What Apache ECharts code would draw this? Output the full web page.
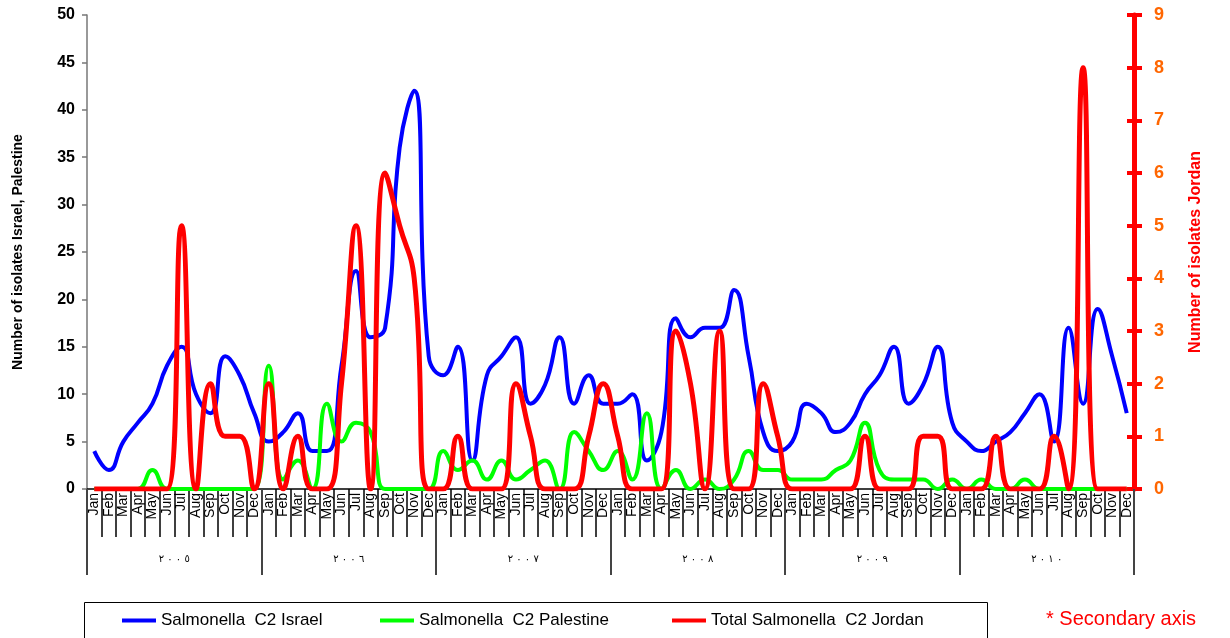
<!DOCTYPE html>
<html>
<head>
<meta charset="utf-8">
<title>Salmonella C2</title>
<script src="https://cdn.jsdelivr.net/npm/echarts@6/dist/echarts.min.js"></script>
<style>
  html, body { margin: 0; padding: 0; background: #fff; }
  #chart { width: 1230px; height: 638px; }
</style>
</head>
<body>
<div id="chart"></div>
<script>
// month labels, repeated for each year
const months = ['Jan', 'Feb', 'Mar', 'Apr', 'May', 'Jun', 'Jul', 'Aug', 'Sep', 'Oct', 'Nov', 'Dec']
const years = ['٢٠٠٥', '٢٠٠٦', '٢٠٠٧', '٢٠٠٨', '٢٠٠٩', '٢٠١٠']

const seriesNames = ['Salmonella  C2 Israel', 'Salmonella  C2 Palestine', 'Total Salmonella  C2 Jordan']

// Israel (left axis)
const israel = [
  4, 2, 5, 7, 9, 13, 15, 10, 8, 14, 12, 8,
  5, 6, 8, 4, 4, 13, 23, 16, 17, 36, 42, 14,
  12, 15, 3, 12, 14, 16, 9, 11, 16, 9, 12, 9,
  9, 10, 3, 6, 18, 16, 17, 17, 21, 14, 6, 4,
  5, 9, 8, 6, 7, 10, 12, 15, 9, 11, 15, 7,
  5, 4, 5, 6, 8, 10, 5, 17, 9, 19, 14, 8
]

// Palestine (left axis)
const palestine = [
  0, 0, 0, 0, 2, 0, 0, 0, 0, 0, 0, 0,
  13, 1, 3, 0, 9, 5, 7, 6, 0, 0, 0, 0,
  4, 2, 3, 1, 3, 1, 2, 3, 0, 6, 4, 2,
  4, 1, 8, 0, 2, 0, 1, 0, 1, 4, 2, 2,
  1, 1, 1, 2, 3, 7, 2, 1, 1, 1, 0, 1,
  0, 1, 0, 0, 1, 0, 0, 0, 0, 0, 0, 0
]

// Jordan (secondary axis)
const jordan = [
  0, 0, 0, 0, 0, 0, 5, 0, 2, 1, 1, 0,
  2, 0, 1, 0, 0, 2, 5, 0, 6, 5, 4, 0,
  0, 1, 0, 0, 0, 2, 1, 0, 0, 0, 1, 2,
  1, 0, 0, 0, 3, 2, 0, 3, 0, 0, 2, 1,
  0, 0, 0, 0, 0, 1, 0, 0, 0, 1, 1, 0,
  0, 0, 1, 0, 0, 0, 1, 0, 8, 0, 0, 0
]

const monthLabels = years.flatMap(() => months)

const chart = echarts.init(document.getElementById('chart'))

const legendBase = {
  icon: 'rect',
  itemWidth: 34,
  itemHeight: 4,
  itemGap: 3,
  padding: 0,
  top: 612,
  textStyle: { fontFamily: 'Liberation Sans, Arial, sans-serif', fontSize: 17, color: '#000' }
}

// spaced arabic digits; LRM keeps them in reading order
const spaceDigits = (v) => v.split('').join('\u200E \u200E')

const option = {
  backgroundColor: '#fff',
  animation: false,
  grid: { left: 87, right: 96, top: 15, bottom: 149, containLabel: false, outerBoundsMode: 'none' },
  legend: [
    { ...legendBase, left: 122, data: [seriesNames[0]] },
    { ...legendBase, left: 380, data: [seriesNames[1]] },
    { ...legendBase, left: 672, data: [seriesNames[2]] }
  ],
  graphic: [
    {
      type: 'rect',
      left: 82,
      top: 600,
      shape: { width: 903, height: 50 },
      style: { fill: 'none', stroke: '#000', lineWidth: 1 }
    },
    {
      type: 'text',
      left: 1046,
      top: 609,
      style: {
        text: '* Secondary axis',
        fill: '#ff0000',
        font: '20px "Liberation Sans", Arial, sans-serif'
      }
    }
  ],
  xAxis: [
    {
      type: 'category',
      data: monthLabels,
      position: 'bottom',
      axisLine: { show: true, lineStyle: { color: '#000', width: 1.5 } },
      axisTick: { show: true, interval: 0, length: 48, lineStyle: { color: '#000', width: 1.5 } },
      axisLabel: {
        interval: 0,
        rotate: 90,
        margin: 4,
        fontFamily: 'Liberation Sans, Arial, sans-serif',
        fontSize: 14,
        color: '#000'
      },
      splitLine: { show: false }
    },
    {
      type: 'category',
      data: years,
      position: 'bottom',
      axisLine: { show: false },
      axisTick: { show: true, interval: 0, length: 86, lineStyle: { color: '#444', width: 2 } },
      axisLabel: {
        interval: 0,
        margin: 65,
        fontFamily: 'DejaVu Sans, sans-serif',
        fontSize: 10,
        color: '#000',
        formatter: spaceDigits
      },
      splitLine: { show: false }
    }
  ],
  yAxis: [
    {
      type: 'value',
      min: 0,
      max: 50,
      interval: 5,
      name: 'Number of isolates Israel, Palestine',
      nameLocation: 'middle',
      nameRotate: 90,
      nameGap: 62,
      nameTextStyle: { fontFamily: 'Liberation Sans, Arial, sans-serif', fontSize: 14, fontWeight: 'bold', color: '#000' },
      axisLine: { show: true, lineStyle: { color: '#777', width: 1.5 } },
      axisTick: { show: true, length: 5, lineStyle: { color: '#777', width: 1.5 } },
      axisLabel: { margin: 12, fontFamily: 'Liberation Sans, Arial, sans-serif', fontSize: 16, fontWeight: 'bold', color: '#000' },
      splitLine: { show: false }
    },
    {
      type: 'value',
      min: 0,
      max: 9,
      interval: 1,
      position: 'right',
      name: 'Number of isolates Jordan',
      nameLocation: 'middle',
      nameRotate: 90,
      nameGap: 54,
      nameTextStyle: { fontFamily: 'Liberation Sans, Arial, sans-serif', fontSize: 16, fontWeight: 'bold', color: '#ff0000' },
      axisLine: { show: true, lineStyle: { color: '#ff0000', width: 5 } },
      axisTick: { show: true, length: 8, lineStyle: { color: '#ff0000', width: 4 } },
      axisLabel: { margin: 20, fontFamily: 'Liberation Sans, Arial, sans-serif', fontSize: 18, fontWeight: 'bold', color: '#ff6600' },
      splitLine: { show: false }
    },
    {
      // inner half of the secondary axis ticks
      type: 'value',
      min: 0,
      max: 9,
      interval: 1,
      position: 'right',
      axisLine: { show: false },
      axisTick: { show: true, inside: true, length: 7, lineStyle: { color: '#ff0000', width: 4 } },
      axisLabel: { show: false },
      splitLine: { show: false }
    }
  ],
  series: [
    {
      name: seriesNames[0],
      type: 'line',
      data: israel,
      yAxisIndex: 0,
      smooth: true,
      symbol: 'none',
      itemStyle: { color: '#0000ff' },
      lineStyle: { color: '#0000ff', width: 4 }
    },
    {
      name: seriesNames[1],
      type: 'line',
      data: palestine,
      yAxisIndex: 0,
      smooth: true,
      symbol: 'none',
      itemStyle: { color: '#00ff00' },
      lineStyle: { color: '#00ff00', width: 4 }
    },
    {
      name: seriesNames[2],
      type: 'line',
      data: jordan,
      yAxisIndex: 1,
      smooth: true,
      symbol: 'none',
      z: 3,
      itemStyle: { color: '#ff0000' },
      lineStyle: { color: '#ff0000', width: 5 }
    }
  ]
}

chart.setOption(option)
</script>
</body>
</html>
